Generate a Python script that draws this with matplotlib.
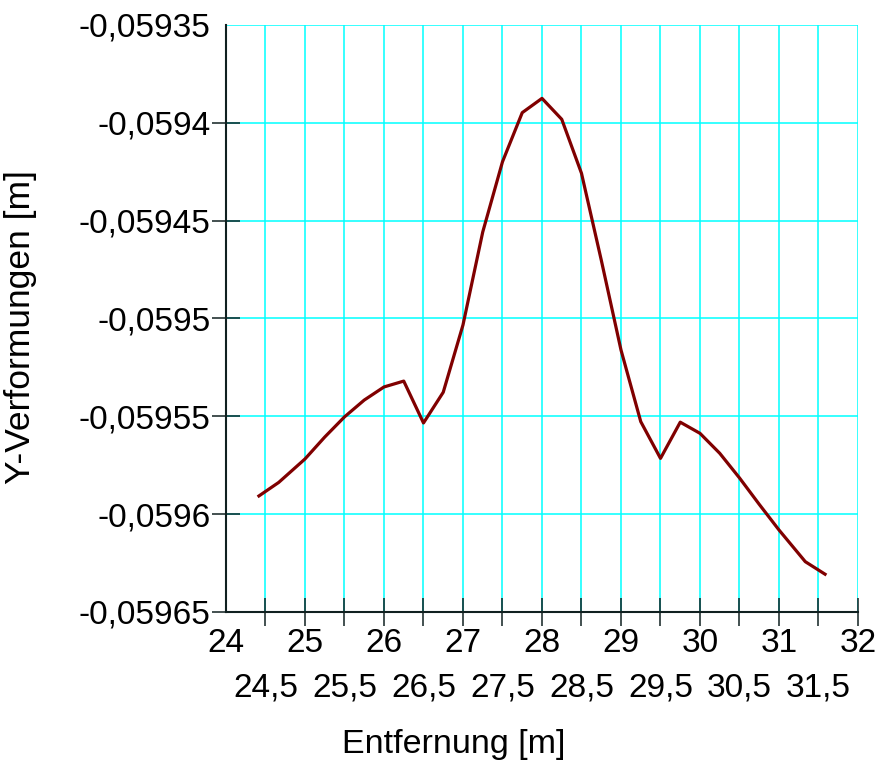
import matplotlib
matplotlib.use('Agg')
import matplotlib.pyplot as plt

plt.rcParams['font.family'] = ['Liberation Sans', 'DejaVu Sans']

# distance along the beam [m] and vertical deformation [m]
entfernung = [24.417, 24.667, 25.0, 25.25, 25.5, 25.75, 26.0, 26.25, 26.5, 26.75,
              27.0, 27.25, 27.5, 27.75, 28.0, 28.25, 28.5, 28.75, 29.0, 29.25,
              29.5, 29.75, 30.0, 30.25, 30.5, 30.75, 31.0, 31.333, 31.583]
y_verformung = [-0.0595907, -0.0595838, -0.0595718, -0.0595606, -0.0595503,
                -0.0595417, -0.0595350, -0.0595320, -0.0595534, -0.0595377,
                -0.0595033, -0.0594558, -0.0594199, -0.0593948, -0.0593875,
                -0.0593982, -0.0594258, -0.0594701, -0.0595161, -0.0595527,
                -0.0595715, -0.0595530, -0.0595587, -0.0595689, -0.0595815,
                -0.0595950, -0.0596081, -0.0596243, -0.0596307]

x_major = [24, 25, 26, 27, 28, 29, 30, 31, 32]
x_major_labels = ['24', '25', '26', '27', '28', '29', '30', '31', '32']
x_minor = [24.5, 25.5, 26.5, 27.5, 28.5, 29.5, 30.5, 31.5]
x_minor_labels = ['24,5', '25,5', '26,5', '27,5', '28,5', '29,5', '30,5', '31,5']
y_ticks = [-0.05965, -0.0596, -0.05955, -0.0595, -0.05945, -0.0594, -0.05935]
y_tick_labels = ['-0,05965', '-0,0596', '-0,05955', '-0,0595', '-0,05945', '-0,0594', '-0,05935']

fig = plt.figure(figsize=(8.8, 7.69), dpi=100)
ax = fig.add_axes([0.2568, 0.2042, 0.7182, 0.7633])

ax.plot(entfernung, y_verformung, color='#800000', linewidth=2.3, zorder=3)

ax.set_xlim(24, 32)
ax.set_ylim(-0.05965, -0.05935)

ax.set_xticks(x_major)
ax.set_xticklabels(x_major_labels)
ax.set_xticks(x_minor, minor=True)
ax.set_xticklabels(x_minor_labels, minor=True)
ax.set_yticks(y_ticks)
ax.set_yticklabels(y_tick_labels)

ax.set_axisbelow(True)
ax.grid(True, which='both', color='#00ffff', linewidth=1.1)

for side in ['top', 'right']:
    ax.spines[side].set_visible(False)
for side in ['left', 'bottom']:
    ax.spines[side].set_color('#102020')
    ax.spines[side].set_linewidth(1.5)
    ax.spines[side].set_zorder(4)

ax.tick_params(axis='both', which='both', direction='inout', length=20,
               width=1.1, color='#102020', labelsize=24)
ax.tick_params(axis='x', which='major', pad=1.5)
ax.tick_params(axis='x', which='minor', pad=33.5)
ax.tick_params(axis='y', which='major', pad=1)

# no tick marks in the corners
ax.xaxis.get_major_ticks()[0].tick1line.set_visible(False)
ax.yaxis.get_major_ticks()[-1].tick1line.set_visible(False)

ax.set_xlabel('Entfernung [m]', fontsize=24.5)
ax.set_ylabel('Y-Verformungen [m]', fontsize=25.5)
ax.xaxis.set_label_coords(0.3608, -0.2)
ax.yaxis.set_label_coords(-0.299, 0.4847)

fig.savefig('out.png', dpi=100)
